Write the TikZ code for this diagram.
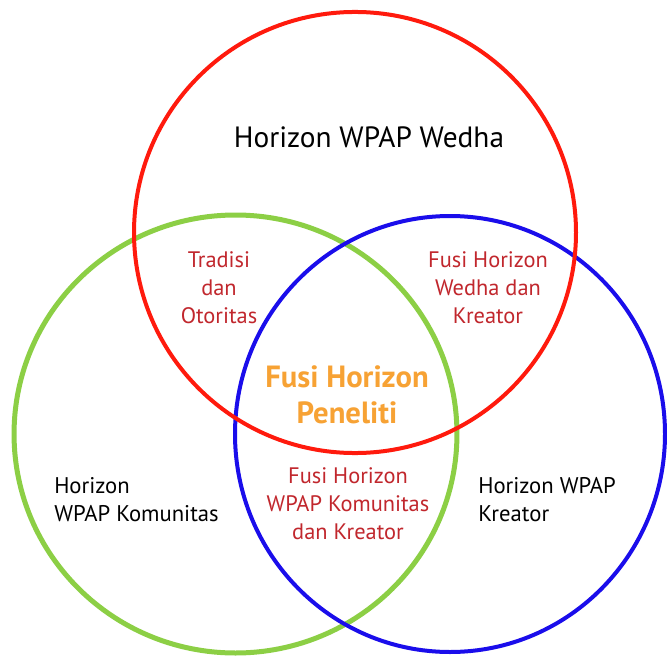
\documentclass[tikz,border=0pt]{standalone}
\usepackage{fontspec}
\setmainfont{PT Sans}
\definecolor{cred}{HTML}{FF1A0D}
\definecolor{cgreen}{HTML}{8CCF45}
\definecolor{cblue}{HTML}{1A0DEB}
\definecolor{tred}{HTML}{C1272D}
\definecolor{torange}{HTML}{F7A234}
\begin{document}
\begin{tikzpicture}[x=0.75pt,y=-0.75pt,
  ring/.style={line width=#1},
  blacklabel/.style={text=black,font=\fontsize{17}{21}\selectfont,align=left,anchor=base west,inner sep=0pt},
  redlabel/.style={text=tred,font=\fontsize{16.8}{21}\selectfont,align=center,anchor=base,inner sep=0pt},
  toplabel/.style={text=black,font=\fontsize{22}{26}\selectfont,anchor=base,inner sep=0pt},
  centerlabel/.style={text=torange,font=\bfseries\fontsize{23}{27}\selectfont,align=center,anchor=base,inner sep=0pt}]
\useasboundingbox (0,0) rectangle (667,656);
\fill[white] (0,0) rectangle (667,656);
% circles
\draw[cgreen,ring=3.75pt] (235.5,434) ellipse [x radius=166.1pt, y radius=164.25pt];
\draw[cblue,ring=3pt] (450,434) ellipse [x radius=161.25pt, y radius=163.5pt];
\draw[cred,ring=3pt] (355,232.5) ellipse [x radius=165.75pt, y radius=165.4pt];
% labels (anchor base = baseline of the last line)
\node[toplabel] (wedha) at (369,147) {Horizon WPAP Wedha};
\node[redlabel] (tradisi) at (219,323) {Tradisi\\dan\\Otoritas};
\node[redlabel] (fwk) at (488,323) {Fusi Horizon\\Wedha dan\\Kreator};
\node[centerlabel] (peneliti) at (347,423) {Fusi Horizon\\Peneliti};
\node[redlabel] (fkk) at (348,539) {Fusi Horizon\\WPAP Komunitas\\dan Kreator};
\node[blacklabel] (komunitas) at (54,521) {Horizon\\WPAP Komunitas};
\node[blacklabel] (kreator) at (478,521) {Horizon WPAP\\Kreator};
\end{tikzpicture}
\end{document}
